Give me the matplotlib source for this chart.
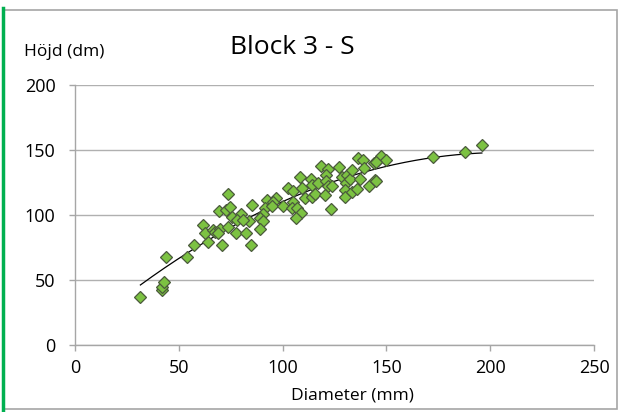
import matplotlib.pyplot as plt
import numpy as np
from matplotlib.lines import Line2D
from matplotlib.patches import Rectangle

plt.rcParams['font.family'] = ['Open Sans', 'DejaVu Sans']

# diameter (mm) and height (dm) per tree
diameter = [31.5, 42, 42, 43, 44, 54, 57.5, 64, 71, 61.5, 62.5, 66.5, 67.5, 70, 69,
            73.5, 77.5, 82.5, 85, 69.5, 72.5, 74.5, 75.5, 80, 78, 84, 81, 73.5, 85.5,
            92.5, 91.5, 90.5, 89, 90.5, 97, 95.5, 95, 100, 102.5, 105, 105, 104.5, 107,
            109, 106.5, 108.5, 109.5, 111, 113.5, 114, 114, 115.5, 117, 118.5, 122, 121,
            121, 122, 124, 120.5, 123.5, 127, 128.5, 131, 130.5, 130, 130, 132.5, 133.5,
            133.5, 136.5, 138.5, 139, 137.5, 136, 141.5, 144.5, 144, 146, 147.5, 150,
            145, 145, 172.5, 188, 196, 89]
height = [37, 42, 45, 48.5, 68, 68, 77, 79, 77, 92.5, 86.5, 88.5, 87, 89.5, 86,
          91, 86.5, 86.5, 77, 103, 104, 106.5, 98.5, 101, 96.5, 95, 96, 116, 107.5,
          111.5, 105, 100.5, 98, 95, 113, 110, 107, 107, 120.5, 118.5, 110, 105.5, 105,
          101.5, 97.5, 129.5, 120.5, 113, 128, 123, 113.5, 116.5, 124.5, 138, 135.5, 130.5,
          126, 122, 122, 115, 104.5, 137, 129.5, 131, 124.5, 119, 113.5, 128, 134.5,
          117.5, 144, 142.5, 136, 128, 120, 122, 127, 140, 142.5, 145, 142.5,
          141, 126, 144.5, 148.5, 153.5, 89.5]

W, H = 622, 412
fig = plt.figure(figsize=(W / 100, H / 100), dpi=100)

# chart frame and the green strip on the left
fig.add_artist(Rectangle((4 / W, 3 / H), 613 / W, 399 / H, transform=fig.transFigure,
                         fill=False, edgecolor='#a6a6a6', linewidth=1.2))
fig.add_artist(Line2D([3 / W, 3 / W], [0, 404 / H], transform=fig.transFigure,
                      color='#00b050', linewidth=2.5))

ax = fig.add_axes([75 / W, 67 / H, 519 / W, 260 / H])
ax.set_xlim(0, 250)
ax.set_ylim(0, 200)
ax.set_xticks(np.arange(0, 251, 50))
ax.set_yticks(np.arange(0, 201, 50))
ax.grid(axis='y', color='#b0b0b0', linewidth=1)
ax.set_axisbelow(True)
for side in ['top', 'right']:
    ax.spines[side].set_visible(False)
for side in ['left', 'bottom']:
    ax.spines[side].set_color('#a6a6a6')
    ax.spines[side].set_linewidth(1)
ax.tick_params(colors='#a6a6a6', labelcolor='black', labelsize=13, length=4, width=1)
ax.tick_params(axis='x', pad=6)
ax.tick_params(axis='y', pad=10)

# second-order polynomial trendline
coef = np.polyfit(diameter, height, 2)
xs = np.linspace(min(diameter), max(diameter), 200)
ax.plot(xs, np.polyval(coef, xs), color='black', linewidth=0.9, zorder=2)

ax.plot(diameter, height, linestyle='none', marker='D', markersize=6.2,
        markerfacecolor='#7cc242', markeredgecolor='#4b5a3c', markeredgewidth=0.9, zorder=3)

fig.text(292 / W, 1 - 48 / H, 'Block 3 - S', fontsize=19, ha='center', va='center')
fig.text(24 / W, 1 - 52 / H, 'Höjd (dm)', fontsize=12.5, ha='left', va='center')
fig.text(352 / W, 1 - 395 / H, 'Diameter (mm)', fontsize=12.5, ha='center', va='center')

fig.savefig('out.png', dpi=100)
